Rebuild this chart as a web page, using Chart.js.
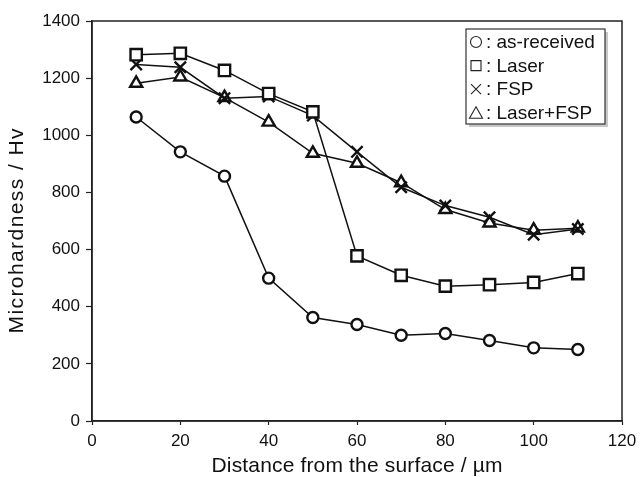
<!DOCTYPE html>
<html lang="en">
<head>
  <meta charset="UTF-8">
  <title>Microhardness profile</title>
  <script src="https://cdn.jsdelivr.net/npm/chart.js"></script>
  <style>
    * { box-sizing: border-box; margin: 0; padding: 0; }
    body { background: #fff; }
    .wrap { width: 640px; height: 477px; }
  </style>
</head>
<body>
  <div class="wrap"><canvas id="chart" width="640" height="477"></canvas></div>
  <script>
    // distance from the surface (um)
    const distance = [10, 20, 30, 40, 50, 60, 70, 80, 90, 100, 110];
    const asReceived = [1064, 942, 857, 500, 362, 338, 300, 306, 282, 256, 250];
    const laser = [1282, 1287, 1227, 1146, 1082, 578, 510, 472, 477, 485, 516];
    const fsp = [1248, 1238, 1130, 1136, 1069, 942, 818, 754, 713, 652, 672];
    const laserFsp = [1182, 1204, 1132, 1046, 937, 902, 834, 740, 693, 668, 675];
    const seriesNames = ['as-received', 'Laser', 'FSP', 'Laser+FSP'];
    const seriesStyles = ['circle', 'rect', 'crossRot', 'triangle'];
    const yTicks = [0, 200, 400, 600, 800, 1000, 1200, 1400];
    const xTicks = [0, 20, 40, 60, 80, 100, 120];
    const xTitle = 'Distance from the surface / µm';
    const yTitle = 'Microhardness / Hv';

    const ink = '#111';
    const fontFamily = "'Liberation Sans', Arial, sans-serif";

    function toPoints(vals) {
      return vals.map((v, i) => ({ x: distance[i], y: v }));
    }

    const markerSize = { circle: 5.5, rect: 8, crossRot: 8, triangle: 7 };

    function makeSet(label, vals, style) {
      return {
        label: label,
        data: toPoints(vals),
        borderColor: ink,
        borderWidth: 1.5,
        pointStyle: style,
        pointRadius: markerSize[style],
        pointBorderWidth: 2.4,
        pointBackgroundColor: '#fff',
        pointBorderColor: ink,
        tension: 0
      };
    }

    // thin outline symbols for the legend
    function legendSymbol(ctx, style, x, y) {
      ctx.beginPath();
      if (style === 'circle') {
        ctx.arc(x, y, 5.5, 0, Math.PI * 2);
      } else if (style === 'rect') {
        ctx.rect(x - 5, y - 5, 10, 10);
      } else if (style === 'crossRot') {
        ctx.moveTo(x - 5, y - 5); ctx.lineTo(x + 5, y + 5);
        ctx.moveTo(x + 5, y - 5); ctx.lineTo(x - 5, y + 5);
      } else {
        ctx.moveTo(x, y - 6); ctx.lineTo(x + 6.5, y + 5.5); ctx.lineTo(x - 6.5, y + 5.5); ctx.closePath();
      }
      ctx.stroke();
    }

    function spacedText(ctx, text, x, y, target) {
      ctx.letterSpacing = '0px';
      const w = ctx.measureText(text).width;
      const sp = Math.max(0, (target - w) / (text.length - 1));
      ctx.letterSpacing = sp + 'px';
      ctx.fillText(text, x + sp / 2, y);
      ctx.letterSpacing = '0px';
    }

    // box around the plot, axis titles and the legend inside it
    const framePlugin = {
      id: 'frame',
      afterDraw(chart) {
        const { ctx, chartArea: a } = chart;
        ctx.save();
        ctx.strokeStyle = '#222';
        ctx.lineWidth = 1.5;
        ctx.strokeRect(a.left, a.top, a.right - a.left, a.bottom - a.top);

        // axis titles
        ctx.fillStyle = '#111';
        ctx.font = '21px ' + fontFamily;
        ctx.textAlign = 'center';
        ctx.textBaseline = 'middle';
        spacedText(ctx, xTitle, 357, 466, 291);
        ctx.save();
        ctx.translate(17, 231);
        ctx.rotate(-Math.PI / 2);
        spacedText(ctx, yTitle, 0, 0, 205);
        ctx.restore();

        // legend box
        const bx = 466, by = 29, bw = 139, bh = 95;
        ctx.fillStyle = '#c8c8c8';
        ctx.fillRect(bx + 3, by + 3, bw, bh);
        ctx.fillStyle = '#fff';
        ctx.fillRect(bx, by, bw, bh);
        ctx.strokeStyle = '#333';
        ctx.lineWidth = 1.2;
        ctx.strokeRect(bx, by, bw, bh);
        ctx.fillStyle = '#111';
        ctx.strokeStyle = '#222';
        ctx.lineWidth = 1.1;
        ctx.font = '19px ' + fontFamily;
        ctx.textAlign = 'left';
        seriesNames.forEach((name, i) => {
          const ry = by + 13 + i * 23.6;
          legendSymbol(ctx, seriesStyles[i], bx + 10, ry);
          ctx.fillText(': ' + name, bx + 20, ry + 1);
        });
        ctx.restore();
      }
    };

    const ctx = document.getElementById('chart').getContext('2d');
    new Chart(ctx, {
      type: 'line',
      data: {
        datasets: seriesNames.map((name, i) =>
          makeSet(name, [asReceived, laser, fsp, laserFsp][i], seriesStyles[i]))
      },
      options: {
        responsive: false,
        animation: false,
        layout: { padding: { left: 0, right: 18, top: 21, bottom: 0 } },
        plugins: { legend: { display: false }, tooltip: { enabled: false } },
        scales: {
          x: {
            type: 'linear',
            min: 0,
            max: 120,
            afterBuildTicks: s => { s.ticks = xTicks.map(v => ({ value: v })); },
            afterFit: s => { s.height = 56; s.paddingLeft = 0; s.paddingRight = 0; },
            grid: { drawOnChartArea: false, drawTicks: true, tickLength: 4, tickColor: '#222', tickWidth: 1.2 },
            border: { display: true, color: '#222', width: 1.5 },
            ticks: { color: '#111', padding: 6, font: { family: fontFamily, size: 17 }, callback: v => String(v) },
            title: { display: false }
          },
          y: {
            min: 0,
            max: 1400,
            afterBuildTicks: s => { s.ticks = yTicks.map(v => ({ value: v })); },
            afterFit: s => { s.width = 92; s.paddingTop = 0; s.paddingBottom = 0; },
            grid: { drawOnChartArea: false, drawTicks: true, tickLength: 6, tickColor: '#222', tickWidth: 1.2 },
            border: { display: true, color: '#222', width: 1.5 },
            ticks: { color: '#111', padding: 6, font: { family: fontFamily, size: 17 }, callback: v => String(v) },
            title: { display: false }
          }
        }
      },
      plugins: [framePlugin]
    });
  </script>
</body>
</html>
